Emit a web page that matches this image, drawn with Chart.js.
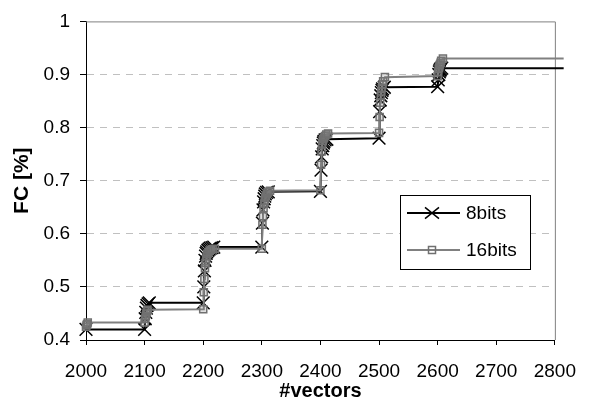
<!DOCTYPE html>
<html><head><meta charset="utf-8">
<script src="https://cdn.jsdelivr.net/npm/chart.js@4/dist/chart.umd.min.js"></script>
<style>html,body{margin:0;padding:0;background:#fff;}#wrap{width:591px;height:401px;}</style>
</head><body><div id="wrap"><canvas id="c" width="591" height="401"></canvas></div>
<script>
const seriesNames = ['8bits', '16bits'];
const vectors8 = [2000,2100,2101,2102,2103,2104,2106,2108,2200,2201,2202,2203,2204,2205,2206,2208,2210,2212,2215,2218,2300,2301,2302,2303,2304,2305,2306,2308,2311,2400,2401,2402,2403,2404,2405,2406,2408,2411,2500,2501,2502,2503,2504,2505,2506,2509,2600,2601,2602,2603,2604,2605,2607,2815];
const fc8 = [0.42,0.42,0.44,0.452,0.46,0.465,0.468,0.47,0.47,0.50,0.53,0.55,0.558,0.563,0.566,0.569,0.571,0.573,0.574,0.575,0.575,0.62,0.645,0.66,0.666,0.671,0.675,0.678,0.679,0.68,0.72,0.745,0.76,0.766,0.771,0.774,0.777,0.778,0.78,0.83,0.852,0.86,0.866,0.87,0.873,0.876,0.877,0.89,0.90,0.905,0.908,0.91,0.912,0.912];
const vectors16 = [2000,2001,2002,2003,2100,2101,2102,2103,2104,2105,2200,2201,2202,2203,2204,2205,2206,2207,2209,2211,2213,2216,2220,2300,2301,2302,2303,2304,2305,2306,2307,2309,2311,2314,2400,2401,2402,2403,2404,2405,2406,2408,2410,2413,2500,2501,2502,2503,2504,2505,2506,2507,2510,2600,2601,2602,2603,2604,2605,2606,2609,2815];
const fc16 = [0.425,0.428,0.43,0.433,0.433,0.44,0.445,0.45,0.454,0.457,0.458,0.49,0.515,0.535,0.545,0.552,0.558,0.562,0.565,0.568,0.57,0.571,0.572,0.572,0.617,0.633,0.648,0.657,0.663,0.668,0.672,0.676,0.679,0.681,0.682,0.73,0.755,0.77,0.775,0.778,0.781,0.784,0.787,0.789,0.79,0.82,0.847,0.86,0.868,0.875,0.881,0.887,0.895,0.897,0.905,0.912,0.915,0.919,0.922,0.926,0.93,0.93];
const xTickValues = [2000,2100,2200,2300,2400,2500,2600,2700,2800];
const yTickValues = [0.4,0.5,0.6,0.7,0.8,0.9,1];
const xAxisTitle = '#vectors';
const yAxisTitle = 'FC [%]';

const FONT = '"Liberation Sans", Arial, sans-serif';

function toPoints(xs, ys) { return xs.map((x, i) => ({x: x, y: ys[i]})); }
function markerRadius(r) { return ctx => (ctx.dataIndex === ctx.dataset.data.length - 1 ? 0 : r); }

const frameLines = {
  id: 'frameLines',
  beforeDatasetsDraw(chart) {
    const {ctx, chartArea: ca} = chart;
    ctx.save();
    ctx.strokeStyle = '#808080';
    ctx.lineWidth = 1;
    ctx.beginPath();
    ctx.moveTo(ca.left, ca.top + 0.5);
    ctx.lineTo(ca.right + 0.5, ca.top + 0.5);
    ctx.lineTo(ca.right + 0.5, ca.bottom);
    ctx.stroke();
    ctx.restore();
  }
};

const boxLegend = {
  id: 'boxLegend',
  afterDatasetsDraw(chart) {
    const {ctx, chartArea: ca} = chart;
    const x0 = Math.round(ca.left + 314), y0 = Math.round(ca.top + 174), w = 130, h = 74;
    ctx.save();
    ctx.fillStyle = '#fff';
    ctx.fillRect(x0, y0, w, h);
    ctx.strokeStyle = '#000';
    ctx.lineWidth = 1;
    ctx.strokeRect(x0 + 0.5, y0 + 0.5, w, h);
    chart.data.datasets.forEach((ds, i) => {
      const y = y0 + 18 + i * 37;
      ctx.strokeStyle = ds.borderColor;
      ctx.lineWidth = ds.borderWidth;
      ctx.beginPath();
      ctx.moveTo(x0 + 7, y);
      ctx.lineTo(x0 + 60, y);
      ctx.stroke();
      const mx = x0 + 32;
      ctx.strokeStyle = ds.pointBorderColor;
      ctx.lineWidth = ds.pointBorderWidth;
      if (ds.pointStyle === 'crossRot') {
        const d = 7;
        ctx.beginPath();
        ctx.moveTo(mx - d, y - d * 0.8); ctx.lineTo(mx + d, y + d * 0.8);
        ctx.moveTo(mx - d, y + d * 0.8); ctx.lineTo(mx + d, y - d * 0.8);
        ctx.stroke();
      } else {
        const s = 3.5;
        ctx.strokeRect(mx - s, y - s, 2 * s, 2 * s);
      }
      ctx.fillStyle = '#000';
      ctx.font = '19px ' + FONT;
      ctx.textAlign = 'left';
      ctx.textBaseline = 'middle';
      ctx.fillText(ds.label, x0 + 66, y + 1);
    });
    ctx.restore();
  }
};

new Chart(document.getElementById('c'), {
  type: 'scatter',
  data: {
    datasets: [
      {
        label: seriesNames[0],
        data: toPoints(vectors8, fc8),
        showLine: true,
        borderColor: '#000',
        borderWidth: 2,
        pointStyle: 'crossRot',
        pointRadius: markerRadius(9),
        pointBorderColor: '#000',
        pointBackgroundColor: 'rgba(0,0,0,0)',
        pointBorderWidth: 1.5,
        order: 2,
        clip: false
      },
      {
        label: seriesNames[1],
        data: toPoints(vectors16, fc16),
        showLine: true,
        borderColor: '#808080',
        borderWidth: 2,
        pointStyle: 'rect',
        pointRadius: markerRadius(5),
        pointBorderColor: '#707070',
        pointBackgroundColor: 'rgba(128,128,128,0.25)',
        pointBorderWidth: 1.5,
        order: 1,
        clip: false
      }
    ]
  },
  options: {
    responsive: false,
    animation: false,
    events: [],
    layout: {padding: {left: 0, top: 18, right: 24, bottom: 0}},
    plugins: {legend: {display: false}, tooltip: {enabled: false}},
    scales: {
      x: {
        type: 'linear',
        min: 2000, max: 2800,
        afterBuildTicks: s => { s.ticks = xTickValues.map(v => ({value: v})); },
        afterFit: s => { s.height = 61; },
        ticks: {color: '#000', font: {family: FONT, size: 19}, padding: 15, maxRotation: 0, autoSkip: false,
                callback: v => String(v)},
        grid: {drawOnChartArea: false, drawTicks: true, tickLength: 5, tickColor: '#000', tickWidth: 1},
        border: {display: true, color: '#000', width: 1},
        title: {display: true, text: xAxisTitle, color: '#000', font: {family: FONT, size: 20, weight: 'bold'}, padding: {top: 0, bottom: -2}}
      },
      y: {
        type: 'linear',
        min: 0.4, max: 1,
        afterBuildTicks: s => { s.ticks = yTickValues.map(v => ({value: v})); },
        afterFit: s => { s.width = 86; },
        ticks: {color: '#000', font: {family: FONT, size: 19}, padding: 10, callback: v => String(v)},
        grid: {
          color: c => (c.tick && (c.tick.value <= 0.4001 || c.tick.value >= 0.9999)) ? 'rgba(0,0,0,0)' : '#c0c0c0',
          lineWidth: 1,
          drawTicks: true, tickLength: 6, tickColor: '#000', tickWidth: 1, tickBorderDash: []
        },
        border: {display: true, color: '#000', width: 1, dash: [7, 6]},
        title: {display: true, text: yAxisTitle, color: '#000', font: {family: FONT, size: 21, weight: 'bold'}, padding: {top: 10, bottom: 0}}
      }
    }
  },
  plugins: [frameLines, boxLegend]
});
</script>
</body></html>
